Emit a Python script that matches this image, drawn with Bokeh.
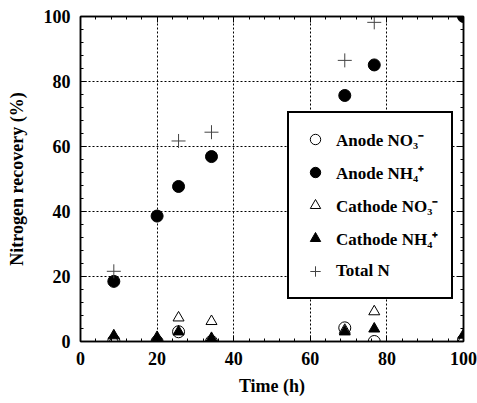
from bokeh.plotting import figure
from bokeh.models import Legend, LegendItem, LinearAxis, Range1d, FixedTicker
from bokeh.embed import file_html
from bokeh.resources import INLINE

# ---- data ----
time_h = [8.7, 20, 25.6, 34.2, 69.0, 76.7, 100]
anode_no3 = [0.3, 0.0, 3.0, 0.0, 4.2, 0.0, 0.5]
anode_nh4 = [18.5, 38.6, 47.7, 56.9, 75.7, 85.1, 100]
cathode_no3 = [0.5, 0.3, 7.3, 6.2, 3.5, 9.2, 1.0]
cathode_nh4 = [1.8, 1.3, 3.0, 1.0, 3.0, 3.9, 2.0]
total_time = [8.7, 25.6, 34.2, 69.0, 76.7]
total_n = [21.6, 61.7, 64.4, 86.5, 98.2]

ticks = [0, 20, 40, 60, 80, 100]
labels = ["Anode NO\u2083\u207b", "Anode NH\u2084\u207a", "Cathode NO\u2083\u207b",
          "Cathode NH\u2084\u207a", "Total N"]

FONT = "Liberation Serif"

p = figure(width=477, height=403, output_backend="svg", toolbar_location=None,
           x_range=Range1d(0, 100), y_range=Range1d(0, 100),
           min_border_left=80, min_border_right=14, min_border_top=16, min_border_bottom=62)

p.outline_line_color = "black"
p.outline_line_width = 1.5
p.outline_line_alpha = 1

minor = list(range(0, 101, 4))
for ax in (p.xaxis[0], p.yaxis[0]):
    ax.ticker = FixedTicker(ticks=ticks, minor_ticks=minor)
    ax.major_label_text_font = FONT
    ax.major_label_text_font_style = "bold"
    ax.major_label_text_font_size = "18px"
    ax.major_label_text_color = "black"
    ax.axis_label_text_font = FONT
    ax.axis_label_text_font_style = "bold"
    ax.axis_label_text_font_size = "18px"
    ax.axis_label_text_color = "black"
    ax.major_tick_in = 6
    ax.major_tick_out = 0
    ax.minor_tick_in = 3
    ax.minor_tick_out = 0
    ax.axis_line_color = "black"
    ax.axis_line_width = 1.5
    ax.major_tick_line_color = "black"
    ax.minor_tick_line_color = "black"

p.xaxis.axis_label = "Time (h)"
p.yaxis.axis_label = "Nitrogen recovery (%)"
p.xaxis.major_label_standoff = 10
p.yaxis.major_label_standoff = 10
p.xaxis.axis_label_standoff = 8
p.yaxis.axis_label_standoff = 14

for loc in ("right", "above"):
    ax = LinearAxis(ticker=FixedTicker(ticks=ticks, minor_ticks=minor),
                    major_label_text_color=None, major_tick_in=6, major_tick_out=0,
                    minor_tick_in=3, minor_tick_out=0, axis_line_color="black",
                    axis_line_width=1.5, major_tick_line_color="black",
                    minor_tick_line_color="black")
    p.add_layout(ax, loc)

p.xgrid.ticker = FixedTicker(ticks=ticks)
p.ygrid.ticker = FixedTicker(ticks=ticks)
for g in (p.xgrid[0], p.ygrid[0]):
    g.grid_line_color = "black"
    g.grid_line_alpha = 1
    g.grid_line_dash = "2 2"
    g.grid_line_width = 1

r1 = p.scatter(time_h, anode_no3, marker="circle", size=12, fill_color=None,
               line_color="black", line_width=1)
r2 = p.scatter(time_h, anode_nh4, marker="circle", size=12, fill_color="black",
               line_color="black")
r3 = p.scatter(time_h, cathode_no3, marker="triangle", size=11, fill_color=None,
               line_color="black", line_width=1)
r4 = p.scatter(time_h, cathode_nh4, marker="triangle", size=11, fill_color="black",
               line_color="black")
r5 = p.scatter(total_time, total_n, marker="cross", size=14, line_color="#444444",
               line_width=1)

legend = Legend(items=[LegendItem(label=l, renderers=[r]) for l, r in
                       zip(labels, [r1, r2, r3, r4, r5])],
                location=(207, 42), orientation="vertical")
legend.border_line_color = "black"
legend.border_line_alpha = 1
legend.border_line_width = 2
legend.background_fill_color = "white"
legend.background_fill_alpha = 1
legend.label_text_font = FONT
legend.label_text_font_style = "bold"
legend.label_text_font_size = "17px"
legend.label_text_color = "black"
legend.glyph_width = 26
legend.glyph_height = 26
legend.label_height = 26
legend.label_standoff = 8
legend.spacing = 7
legend.padding = 13
legend.margin = 0
p.add_layout(legend, "center")

open("out.html", "w").write(file_html(p, INLINE))
